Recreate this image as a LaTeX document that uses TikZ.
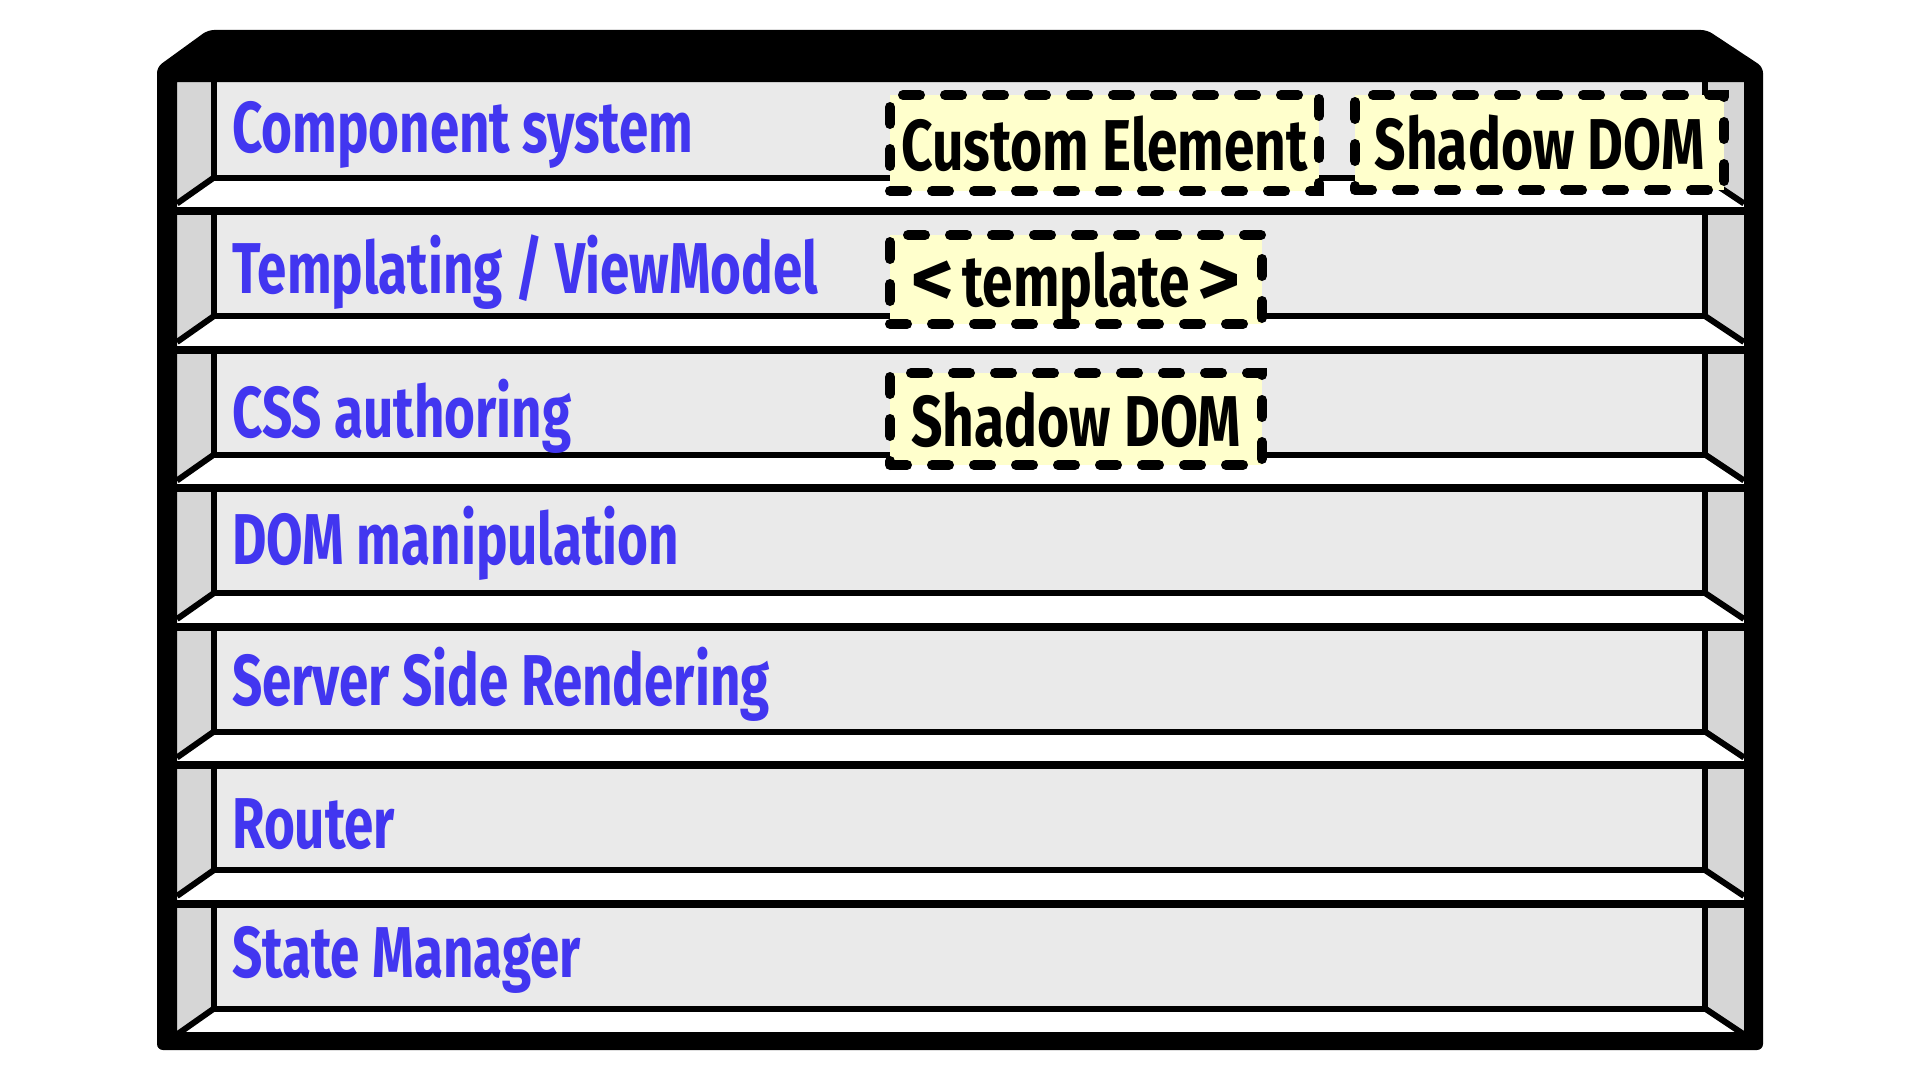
\documentclass[tikz,border=0pt]{standalone}
\usepackage{fontspec}
\newfontfamily\handfont[FakeStretch=0.735]{Fira Sans}
\newfontfamily\boxfont[FakeStretch=0.765]{Fira Sans}
\definecolor{labelblue}{RGB}{66,54,240}
\definecolor{boxyellow}{RGB}{255,255,204}
\definecolor{panelgray}{RGB}{234,234,234}
\definecolor{sidegray}{RGB}{214,214,214}
\newcommand{\widebracket}[1]{\scalebox{1.5}[1.1]{#1}}
\begin{document}
\begin{tikzpicture}[x=1pt,y=-1pt,
  layerlabel/.style={font=\handfont\bfseries\fontsize{72}{80}\selectfont,
    anchor=base west, inner sep=0pt, text=labelblue},
  feature/.style={font=\boxfont\bfseries\fontsize{72}{80}\selectfont,
    shape=rectangle, draw=black, line width=10pt,
    fill=boxyellow, dash pattern=on 17pt off 25pt, line cap=round,
    inner sep=0pt, text=black, text height=54pt, text depth=0pt},
  panelline/.style={line width=6pt, black},
  sepline/.style={line width=8pt, black}]
\useasboundingbox (0,0) rectangle (1921,1081);
\fill[white] (0,0) rectangle (1921,1081);

% shelves: back panel, side walls, floor edges and separators
\foreach \k in {0,...,6}{
  \pgfmathsetmacro{\s}{72.5+138.5*\k}
  \pgfmathsetmacro{\t}{\s+4}
  \pgfmathsetmacro{\b}{\s+105}
  \pgfmathsetmacro{\f}{\s+131}
  \fill[panelgray] (214,\t) rectangle (1705,\b);
  \fill[sidegray] (177,\t) -- (214,\t) -- (214,\b) -- (177,\f) -- cycle;
  \fill[sidegray] (1744,\t) -- (1705,\t) -- (1705,\b) -- (1744,\f) -- cycle;
  \draw[panelline] (214,\t) -- (214,\b) -- (1705,\b) -- (1705,\t);
  \draw[panelline] (214,\b) -- (177,\f);
  \draw[panelline] (1705,\b) -- (1744,\f);
  \ifnum\k>0
    \draw[sepline] (177,\s) -- (1744,\s);
  \fi
}

% outer cabinet frame
\fill[black, even odd rule]
  [rounded corners=6pt] (157,67) -- (208,30) -- (1707,30) -- (1763,67)
  -- (1763,1050) -- (157,1050) -- cycle
  [sharp corners] (177,82) rectangle (1744,1032);

% layer names
\node[layerlabel] (comp) at (232,152) {Component system};
\node[layerlabel] (tmpl) at (232,293) {Templating / ViewModel};
\node[layerlabel] (css)  at (232,437) {CSS authoring};
\node[layerlabel] (dom)  at (232,564) {DOM manipulation};
\node[layerlabel] (ssr)  at (232,705) {Server Side Rendering};
\node[layerlabel] (rout) at (232,848) {Router};
\node[layerlabel] (state) at (232,977) {State Manager};

% web platform features
\node[feature, minimum width=429pt, minimum height=96pt] (custel) at (1104.5,143) {Custom Element};
\node[feature, minimum width=369pt, minimum height=95pt] (shadowa) at (1539.5,142.5) {Shadow DOM};
\node[feature, minimum width=372pt, minimum height=89pt] (tmplel) at (1076,279.5)
  {\widebracket{<}\kern8pt template\kern8pt\widebracket{>}};
\node[feature, minimum width=372pt, minimum height=92pt] (shadowb) at (1076,419) {Shadow DOM};
\end{tikzpicture}
\end{document}
